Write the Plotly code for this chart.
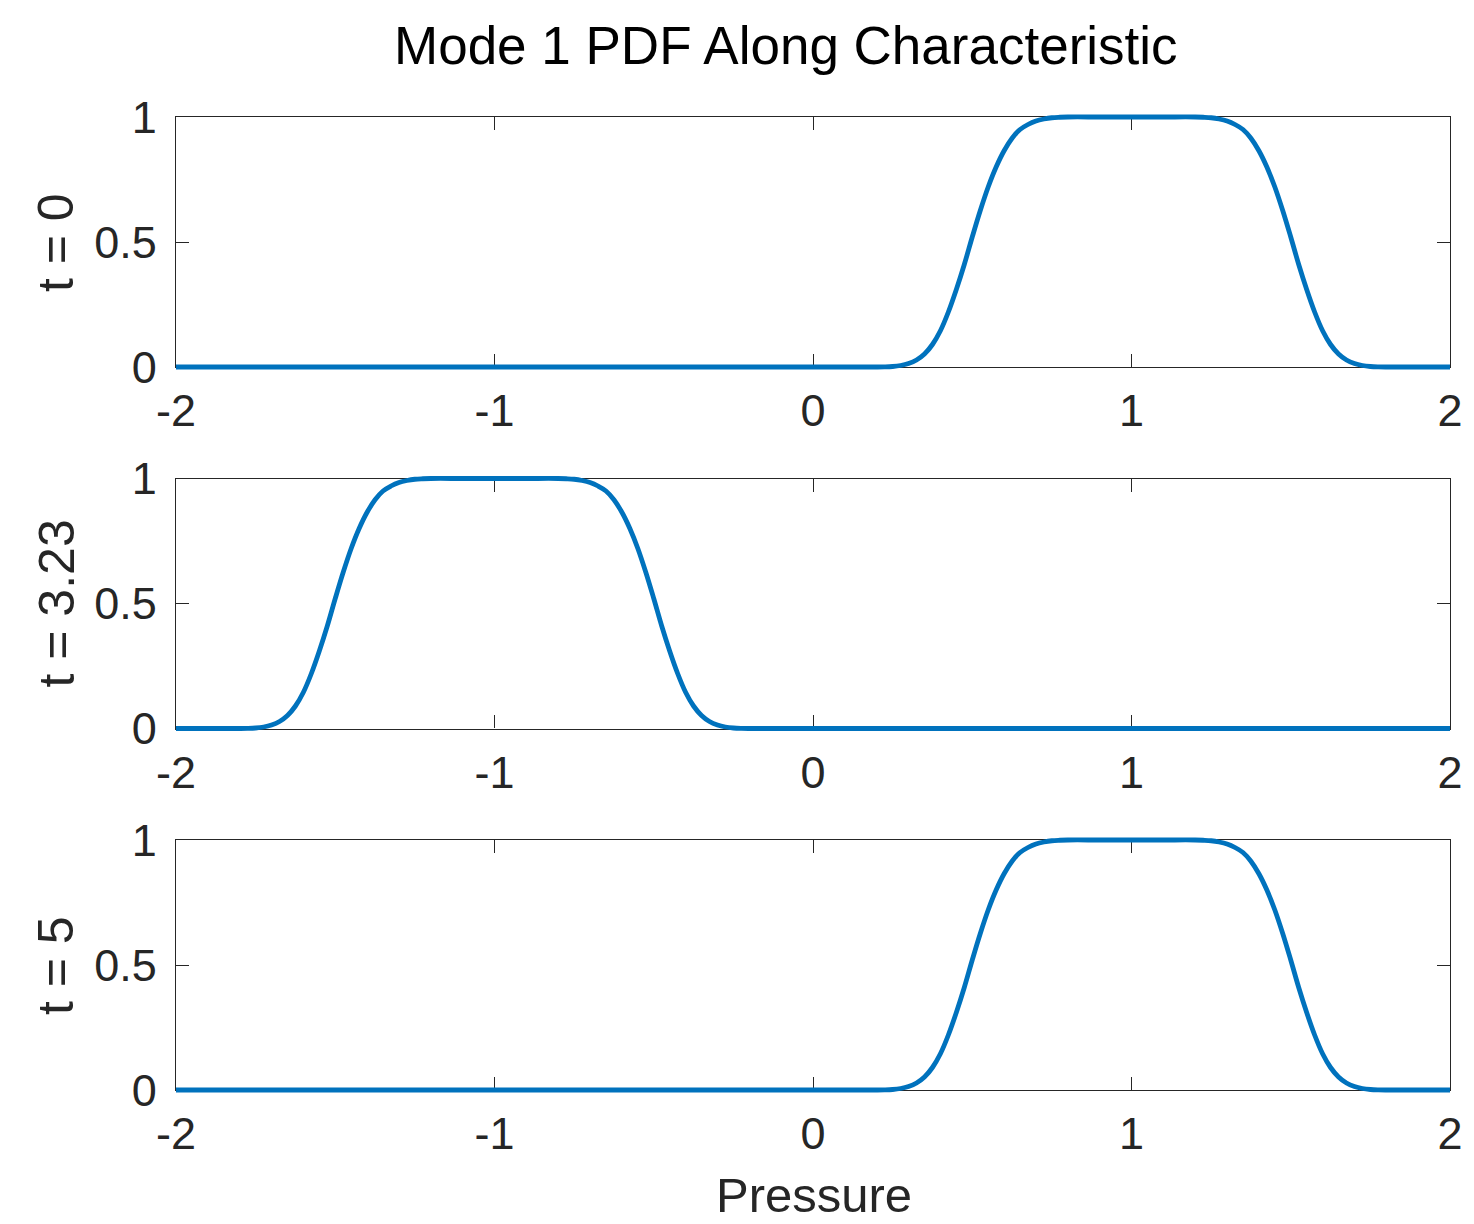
import plotly.graph_objects as go

# ---- data ----
pressure_t0 = [-2.0, -1.5, -1.0, -0.5, 0.0, 0.1,
               0.200, 0.225, 0.250, 0.275, 0.300, 0.325, 0.350, 0.375, 0.400, 0.425,
               0.450, 0.475, 0.500, 0.525, 0.550, 0.575, 0.600, 0.625, 0.650, 0.675,
               0.700, 0.725, 0.750, 0.775, 0.800,
               0.9, 1.0, 1.1,
               1.200, 1.225, 1.250, 1.275, 1.300, 1.325, 1.350, 1.375, 1.400, 1.425,
               1.450, 1.475, 1.500, 1.525, 1.550, 1.575, 1.600, 1.625, 1.650, 1.675,
               1.700, 1.725, 1.750, 1.775, 1.800,
               1.9, 2.0]
pdf_t0 = [0, 0, 0, 0, 0, 0,
          0, 0.0005, 0.002, 0.006, 0.014, 0.028, 0.052, 0.090, 0.145, 0.220,
          0.310, 0.410, 0.520, 0.625, 0.720, 0.800, 0.865, 0.915, 0.950, 0.970,
          0.984, 0.992, 0.997, 0.999, 1.0,
          1.0, 1.0, 1.0,
          1.0, 0.999, 0.997, 0.992, 0.984, 0.970, 0.950, 0.915, 0.865, 0.800,
          0.720, 0.625, 0.520, 0.410, 0.310, 0.220, 0.145, 0.090, 0.052, 0.028,
          0.014, 0.006, 0.002, 0.0005, 0,
          0, 0]

pressure_t323 = [-2.0, -1.9,
                 -1.800, -1.775, -1.750, -1.725, -1.700, -1.675, -1.650, -1.625, -1.600, -1.575,
                 -1.550, -1.525, -1.500, -1.475, -1.450, -1.425, -1.400, -1.375, -1.350, -1.325,
                 -1.300, -1.275, -1.250, -1.225, -1.200,
                 -1.1, -1.0, -0.9,
                 -0.800, -0.775, -0.750, -0.725, -0.700, -0.675, -0.650, -0.625, -0.600, -0.575,
                 -0.550, -0.525, -0.500, -0.475, -0.450, -0.425, -0.400, -0.375, -0.350, -0.325,
                 -0.300, -0.275, -0.250, -0.225, -0.200,
                 -0.1, 0.0, 0.5, 1.0, 1.5, 2.0]
pdf_t323 = [0, 0,
            0, 0.0005, 0.002, 0.006, 0.014, 0.028, 0.052, 0.090, 0.145, 0.220,
            0.310, 0.410, 0.520, 0.625, 0.720, 0.800, 0.865, 0.915, 0.950, 0.970,
            0.984, 0.992, 0.997, 0.999, 1.0,
            1.0, 1.0, 1.0,
            1.0, 0.999, 0.997, 0.992, 0.984, 0.970, 0.950, 0.915, 0.865, 0.800,
            0.720, 0.625, 0.520, 0.410, 0.310, 0.220, 0.145, 0.090, 0.052, 0.028,
            0.014, 0.006, 0.002, 0.0005, 0,
            0, 0, 0, 0, 0, 0]

pressure_t5 = [-2.0, -1.5, -1.0, -0.5, 0.0, 0.1,
               0.200, 0.225, 0.250, 0.275, 0.300, 0.325, 0.350, 0.375, 0.400, 0.425,
               0.450, 0.475, 0.500, 0.525, 0.550, 0.575, 0.600, 0.625, 0.650, 0.675,
               0.700, 0.725, 0.750, 0.775, 0.800,
               0.9, 1.0, 1.1,
               1.200, 1.225, 1.250, 1.275, 1.300, 1.325, 1.350, 1.375, 1.400, 1.425,
               1.450, 1.475, 1.500, 1.525, 1.550, 1.575, 1.600, 1.625, 1.650, 1.675,
               1.700, 1.725, 1.750, 1.775, 1.800,
               1.9, 2.0]
pdf_t5 = [0, 0, 0, 0, 0, 0,
          0, 0.0005, 0.002, 0.006, 0.014, 0.028, 0.052, 0.090, 0.145, 0.220,
          0.310, 0.410, 0.520, 0.625, 0.720, 0.800, 0.865, 0.915, 0.950, 0.970,
          0.984, 0.992, 0.997, 0.999, 1.0,
          1.0, 1.0, 1.0,
          1.0, 0.999, 0.997, 0.992, 0.984, 0.970, 0.950, 0.915, 0.865, 0.800,
          0.720, 0.625, 0.520, 0.410, 0.310, 0.220, 0.145, 0.090, 0.052, 0.028,
          0.014, 0.006, 0.002, 0.0005, 0,
          0, 0]

panel_labels = ["t = 0", "t = 3.23", "t = 5"]
x_ticks = [-2, -1, 0, 1, 2]
x_ticktext = ["-2", "-1", "0", "1", "2"]
y_ticks = [0, 0.5, 1]
y_ticktext = ["0", "0.5", "1"]

xs = [pressure_t0, pressure_t323, pressure_t5]
ys = [pdf_t0, pdf_t323, pdf_t5]

# ---- layout geometry (pixel positions of the reference) ----
W, H = 1474, 1224
PLOT_L, PLOT_R = 176, 1450
PANEL_TOPS = [117.0, 478.5, 840.0]
PANEL_H = 250.0
PADPX = 6.0  # unclipped room for the thick line at y=0 and y=1

MT = PANEL_TOPS[0] - PADPX
MB = H - (PANEL_TOPS[2] + PANEL_H) - PADPX
ML, MR = PLOT_L, W - PLOT_R
PH = H - MT - MB
PW = W - ML - MR


def py(pix):
    """pixel row -> paper y"""
    return (H - MB - pix) / PH


FONT = "Liberation Sans, Arial, Helvetica, sans-serif"
AX = "#262626"
LINE = "#0072BD"

fig = go.Figure()
annotations = []
layout_axes = {}

# visible framed axes (drawn first)
for k in range(3):
    top = PANEL_TOPS[k]
    bot = top + PANEL_H
    n = "" if k == 0 else str(k + 1)
    common = dict(showgrid=False, zeroline=False, showline=True, mirror="allticks",
                  linecolor=AX, linewidth=1.2, ticks="inside", ticklen=13,
                  tickwidth=1.2, tickcolor=AX,
                  tickfont=dict(family=FONT, size=45, color=AX), fixedrange=True)
    layout_axes["xaxis" + n] = dict(domain=[0, 1], range=[-2, 2], anchor="y" + n,
                                    tickmode="array", tickvals=x_ticks, ticktext=x_ticktext,
                                    ticklabelstandoff=4, **common)
    layout_axes["yaxis" + n] = dict(domain=[py(bot), py(top)], range=[0, 1], anchor="x" + n,
                                    tickmode="array", tickvals=y_ticks, ticktext=y_ticktext,
                                    ticklabelstandoff=9, **common)
    fig.add_trace(go.Scatter(x=[None], y=[None], mode="lines", xaxis="x" + n, yaxis="y" + n,
                             showlegend=False, hoverinfo="skip"))
    annotations.append(dict(
        text=panel_labels[k], xref="paper", yref="paper",
        x=(56 - ML) / PW, y=py(top + PANEL_H / 2), xanchor="center", yanchor="middle",
        textangle=-90, showarrow=False,
        font=dict(family=FONT, size=50, color=AX)))

# hidden axes with a little extra room so the thick curve is not clipped at 0 and 1
pv = PADPX / PANEL_H
for k in range(3):
    top = PANEL_TOPS[k]
    bot = top + PANEL_H
    n = str(k + 4)
    layout_axes["xaxis" + n] = dict(domain=[0, 1], range=[-2, 2], anchor="y" + n,
                                    visible=False, showgrid=False, zeroline=False)
    layout_axes["yaxis" + n] = dict(domain=[max(0.0, py(bot + PADPX)), min(1.0, py(top - PADPX))],
                                    range=[-pv, 1 + pv], anchor="x" + n,
                                    visible=False, showgrid=False, zeroline=False)
    fig.add_trace(go.Scatter(
        x=xs[k], y=ys[k], mode="lines",
        line=dict(color=LINE, width=4.8, shape="spline", smoothing=1.0),
        xaxis="x" + n, yaxis="y" + n, showlegend=False, hoverinfo="skip"))

annotations.append(dict(
    text="Pressure", xref="paper", yref="paper",
    x=(814 - ML) / PW, y=py(1195), xanchor="center", yanchor="middle",
    showarrow=False, borderpad=0, font=dict(family=FONT, size=49, color=AX)))
annotations.append(dict(
    text="Mode 1 PDF Along Characteristic", xref="paper", yref="paper",
    x=(786 - ML) / PW, y=py(45), xanchor="center", yanchor="middle",
    showarrow=False, font=dict(family=FONT, size=53, color="#000000")))

fig.update_layout(**layout_axes)
fig.update_layout(
    width=W, height=H, autosize=False,
    margin=dict(l=ML, r=MR, t=MT, b=MB),
    paper_bgcolor="white", plot_bgcolor="rgba(0,0,0,0)",
    annotations=annotations,
)

fig.write_html("out.html")
